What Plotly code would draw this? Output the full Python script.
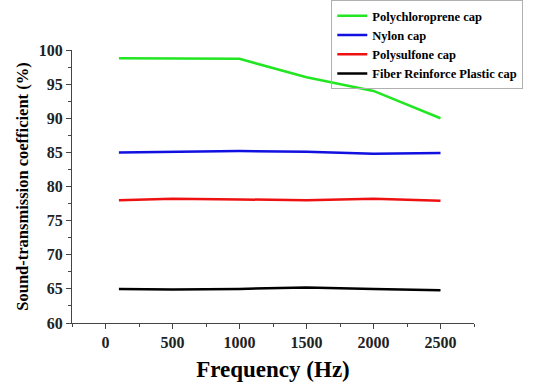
import plotly.graph_objects as go

freq = [100, 500, 1000, 1500, 2000, 2500]
polychloroprene = [98.8, 98.8, 98.7, 96.0, 94.0, 90.0]
nylon = [85.0, 85.1, 85.2, 85.1, 84.8, 84.9]
polysulfone = [78.0, 78.2, 78.1, 78.0, 78.2, 77.9]
frp = [65.0, 64.9, 65.0, 65.2, 65.0, 64.8]

series = [
    ("Polychloroprene cap", polychloroprene, "#22e622"),
    ("Nylon cap", nylon, "#1010e0"),
    ("Polysulfone cap", polysulfone, "#ee1111"),
    ("Fiber Reinforce Plastic cap", frp, "#000000"),
]

fig = go.Figure()
for name, vals, col in series:
    fig.add_trace(go.Scatter(x=freq, y=vals, mode="lines", name=name,
                             line=dict(color=col, width=2.5)))

font = "Liberation Serif"
fig.update_layout(
    width=553, height=383,
    margin=dict(l=72, r=79, t=50, b=60, autoexpand=False),
    paper_bgcolor="white", plot_bgcolor="white",
    font=dict(family=font, color="black"),
    showlegend=True,
    legend=dict(x=0.645, y=1.0, xref="paper", yref="container", xanchor="left", yanchor="top",
                font=dict(family=font, size=12.5, color="black", weight="bold"),
                bordercolor="#b0b0b0", borderwidth=1, bgcolor="rgba(255,255,255,0)",
                tracegroupgap=0, itemwidth=30),
    xaxis=dict(range=[-250, 2750], tickvals=[0, 500, 1000, 1500, 2000, 2500],
               showgrid=False, zeroline=False, showline=True, linecolor="#444", linewidth=1,
               ticks="outside", ticklen=5, tickcolor="#444",
               minor=dict(ticks="outside", ticklen=3, tickcolor="#444", dtick=250, tick0=0),
               tickfont=dict(family=font, size=16, color="#222", weight="bold"),
               title=dict(text="Frequency (Hz)", font=dict(family=font, size=23, weight="bold"), standoff=10)),
    yaxis=dict(range=[60, 100], dtick=5,
               showgrid=False, zeroline=False, showline=True, linecolor="#444", linewidth=1,
               ticks="outside", ticklen=5, tickcolor="#444",
               minor=dict(ticks="outside", ticklen=3, tickcolor="#444", dtick=2.5, tick0=0),
               tickfont=dict(family=font, size=16, color="#222", weight="bold"),
               title=dict(text="Sound-transmission coefficient (%)", font=dict(family=font, size=16.5, weight="bold"), standoff=6)),
)
fig.write_html("out.html")
